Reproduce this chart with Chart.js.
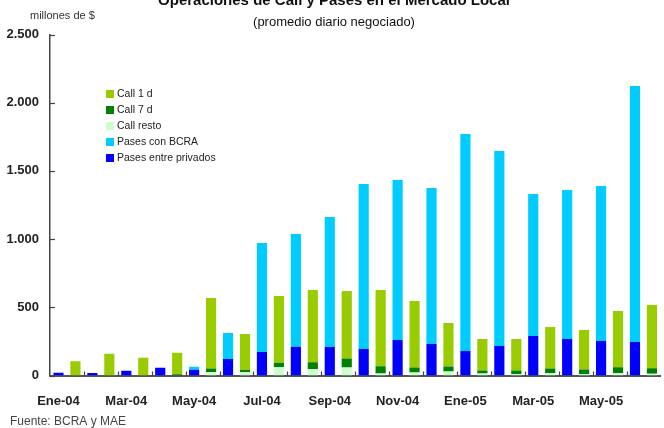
<!DOCTYPE html>
<html>
<head>
<meta charset="utf-8">
<script src="https://cdn.jsdelivr.net/npm/chart.js@4.4.1/dist/chart.umd.min.js"></script>
<style>
    html, body { margin: 0; padding: 0; background: #fff; overflow: hidden; }
    #wrap { position: relative; width: 670px; height: 428px; }
    #legend { position: absolute; left: 106px; top: 85px; font: 10.5px "Liberation Sans", Arial, sans-serif; color: #222; }
    #legend div { height: 16px; line-height: 16px; white-space: nowrap; }
    #legend span { display: inline-block; width: 8px; height: 8px; margin-right: 3px; vertical-align: -1px; }
</style>
</head>
<body>
<div id="wrap">
    <canvas id="chart" width="670" height="428"></canvas>
    <div id="legend"></div>
</div>
<script>
// Months (each month gets two bars: pases then call)
const months = ['Ene-04', 'Feb-04', 'Mar-04', 'Abr-04', 'May-04', 'Jun-04', 'Jul-04', 'Ago-04', 'Sep-04',
    'Oct-04', 'Nov-04', 'Dic-04', 'Ene-05', 'Feb-05', 'Mar-05', 'Abr-05', 'May-05', 'Jun-05'];

// millones de $ (promedio diario)
const call1d = [105, 160, 130, 157, 516, 263, 489, 529, 494, 559, 487, 319, 231, 231, 304, 290, 413, 463];
const call7d = [0, 0, 0, 10, 27, 15, 32, 51, 66, 54, 37, 37, 22, 27, 34, 34, 42, 42];
const callResto = [0, 0, 0, 0, 25, 26, 62, 47, 59, 14, 22, 29, 15, 10, 18, 10, 18, 12];
const pasesPrivados = [20, 18, 35, 57, 42, 121, 173, 210, 209, 194, 260, 231, 180, 216, 290, 268, 253, 246];
const pasesBCRA = [0, 0, 0, 0, 23, 190, 798, 827, 953, 1210, 1173, 1143, 1590, 1429, 1040, 1092, 1136, 1876];

const yTicks = [0, 500, 1000, 1500, 2000, 2500];

const colors = {
    call1d: '#99CC00',
    call7d: '#008000',
    callResto: '#CCFFCC',
    pasesBCRA: '#00CCFF',
    pasesPrivados: '#0000FF'
};

// Build the 36 categories: even index = pases, odd index = call
const labels = [];
months.forEach(m => { labels.push(m); labels.push(m); });

function asPases(arr) {
    const out = [];
    arr.forEach(v => { out.push(v); out.push(null); });
    return out;
}
function asCall(arr) {
    const out = [];
    arr.forEach(v => { out.push(null); out.push(v); });
    return out;
}

function fmt(v) {
    return v.toString().replace(/\B(?=(\d{3})+(?!\d))/g, '.');
}

const font = '"Liberation Sans", Arial, sans-serif';

// Extra texts and inner tick marks
const decorations = {
    id: 'decorations',
    afterDraw(chart) {
        const ctx = chart.ctx;
        const area = chart.chartArea;
        const x = chart.scales.x;
        const y = chart.scales.y;
        ctx.save();

        // inner tick marks
        ctx.strokeStyle = '#444';
        ctx.lineWidth = 1.2;
        yTicks.forEach(v => {
            const py = Math.round(y.getPixelForValue(v)) + 0.5;
            ctx.beginPath();
            ctx.moveTo(area.left, py);
            ctx.lineTo(area.left + 5, py);
            ctx.stroke();
        });
        for (let i = 2; i < labels.length; i += 2) {
            const px = Math.round((x.getPixelForValue(i - 1) + x.getPixelForValue(i)) / 2) + 0.5;
            ctx.beginPath();
            ctx.moveTo(px, area.bottom);
            ctx.lineTo(px, area.bottom - 4);
            ctx.stroke();
        }

        ctx.fillStyle = '#111';
        ctx.textAlign = 'center';
        ctx.textBaseline = 'alphabetic';
        ctx.font = 'bold 15px ' + font;
        ctx.fillText('Operaciones de Call y Pases en el Mercado Local', 334, 5);
        ctx.font = '13px ' + font;
        ctx.textBaseline = 'middle';
        ctx.fillText('(promedio diario negociado)', 334, 22);

        ctx.textAlign = 'left';
        ctx.fillStyle = '#333';
        ctx.font = '11px ' + font;
        ctx.fillText('millones de $', 30, 16);
        ctx.fillStyle = '#444';
        ctx.font = '12px ' + font;
        ctx.fillText('Fuente: BCRA y MAE', 10, 422);
        ctx.restore();
    }
};

const chart = new Chart(document.getElementById('chart').getContext('2d'), {
    type: 'bar',
    data: {
        labels: labels,
        datasets: [
            { label: 'Call resto', data: asCall(callResto), backgroundColor: colors.callResto },
            { label: 'Call 7 d', data: asCall(call7d), backgroundColor: colors.call7d },
            { label: 'Call 1 d', data: asCall(call1d), backgroundColor: colors.call1d },
            { label: 'Pases entre privados', data: asPases(pasesPrivados), backgroundColor: colors.pasesPrivados },
            { label: 'Pases con BCRA', data: asPases(pasesBCRA), backgroundColor: colors.pasesBCRA }
        ]
    },
    options: {
        responsive: false,
        animation: false,
        layout: { padding: { left: 0, right: 4.4, top: 34.5, bottom: 0 } },
        datasets: {
            bar: { categoryPercentage: 1, barPercentage: 0.6, borderWidth: 0 }
        },
        plugins: {
            legend: { display: false },
            tooltip: { enabled: false }
        },
        scales: {
            x: {
                stacked: true,
                grid: { display: false, drawTicks: false },
                border: { display: true, color: '#555', width: 2 },
                afterFit: scale => { scale.height = 52.5; },
                ticks: {
                    autoSkip: false,
                    maxRotation: 0,
                    padding: 18,
                    color: '#222',
                    font: { family: font, size: 13, weight: 'bold' },
                    callback: function (value, index) {
                        return index % 4 === 0 ? labels[index] : '';
                    }
                }
            },
            y: {
                stacked: true,
                min: 0,
                max: 2500,
                grid: { display: false, drawTicks: false },
                border: { display: true, color: '#444', width: 1.5 },
                afterFit: scale => { scale.width = 50; },
                afterBuildTicks: scale => { scale.ticks = yTicks.map(v => ({ value: v })); },
                ticks: {
                    padding: 11,
                    color: '#222',
                    font: { family: font, size: 13, weight: 'bold' },
                    callback: v => fmt(v)
                }
            }
        }
    },
    plugins: [decorations]
});

// Legend in the order shown in the reference
const legendItems = [
    ['Call 1 d', colors.call1d],
    ['Call 7 d', colors.call7d],
    ['Call resto', colors.callResto],
    ['Pases con BCRA', colors.pasesBCRA],
    ['Pases entre privados', colors.pasesPrivados]
];
document.getElementById('legend').innerHTML = legendItems
    .map(([name, c]) => `<div><span style="background:${c}"></span>${name}</div>`)
    .join('');
</script>
</body>
</html>
